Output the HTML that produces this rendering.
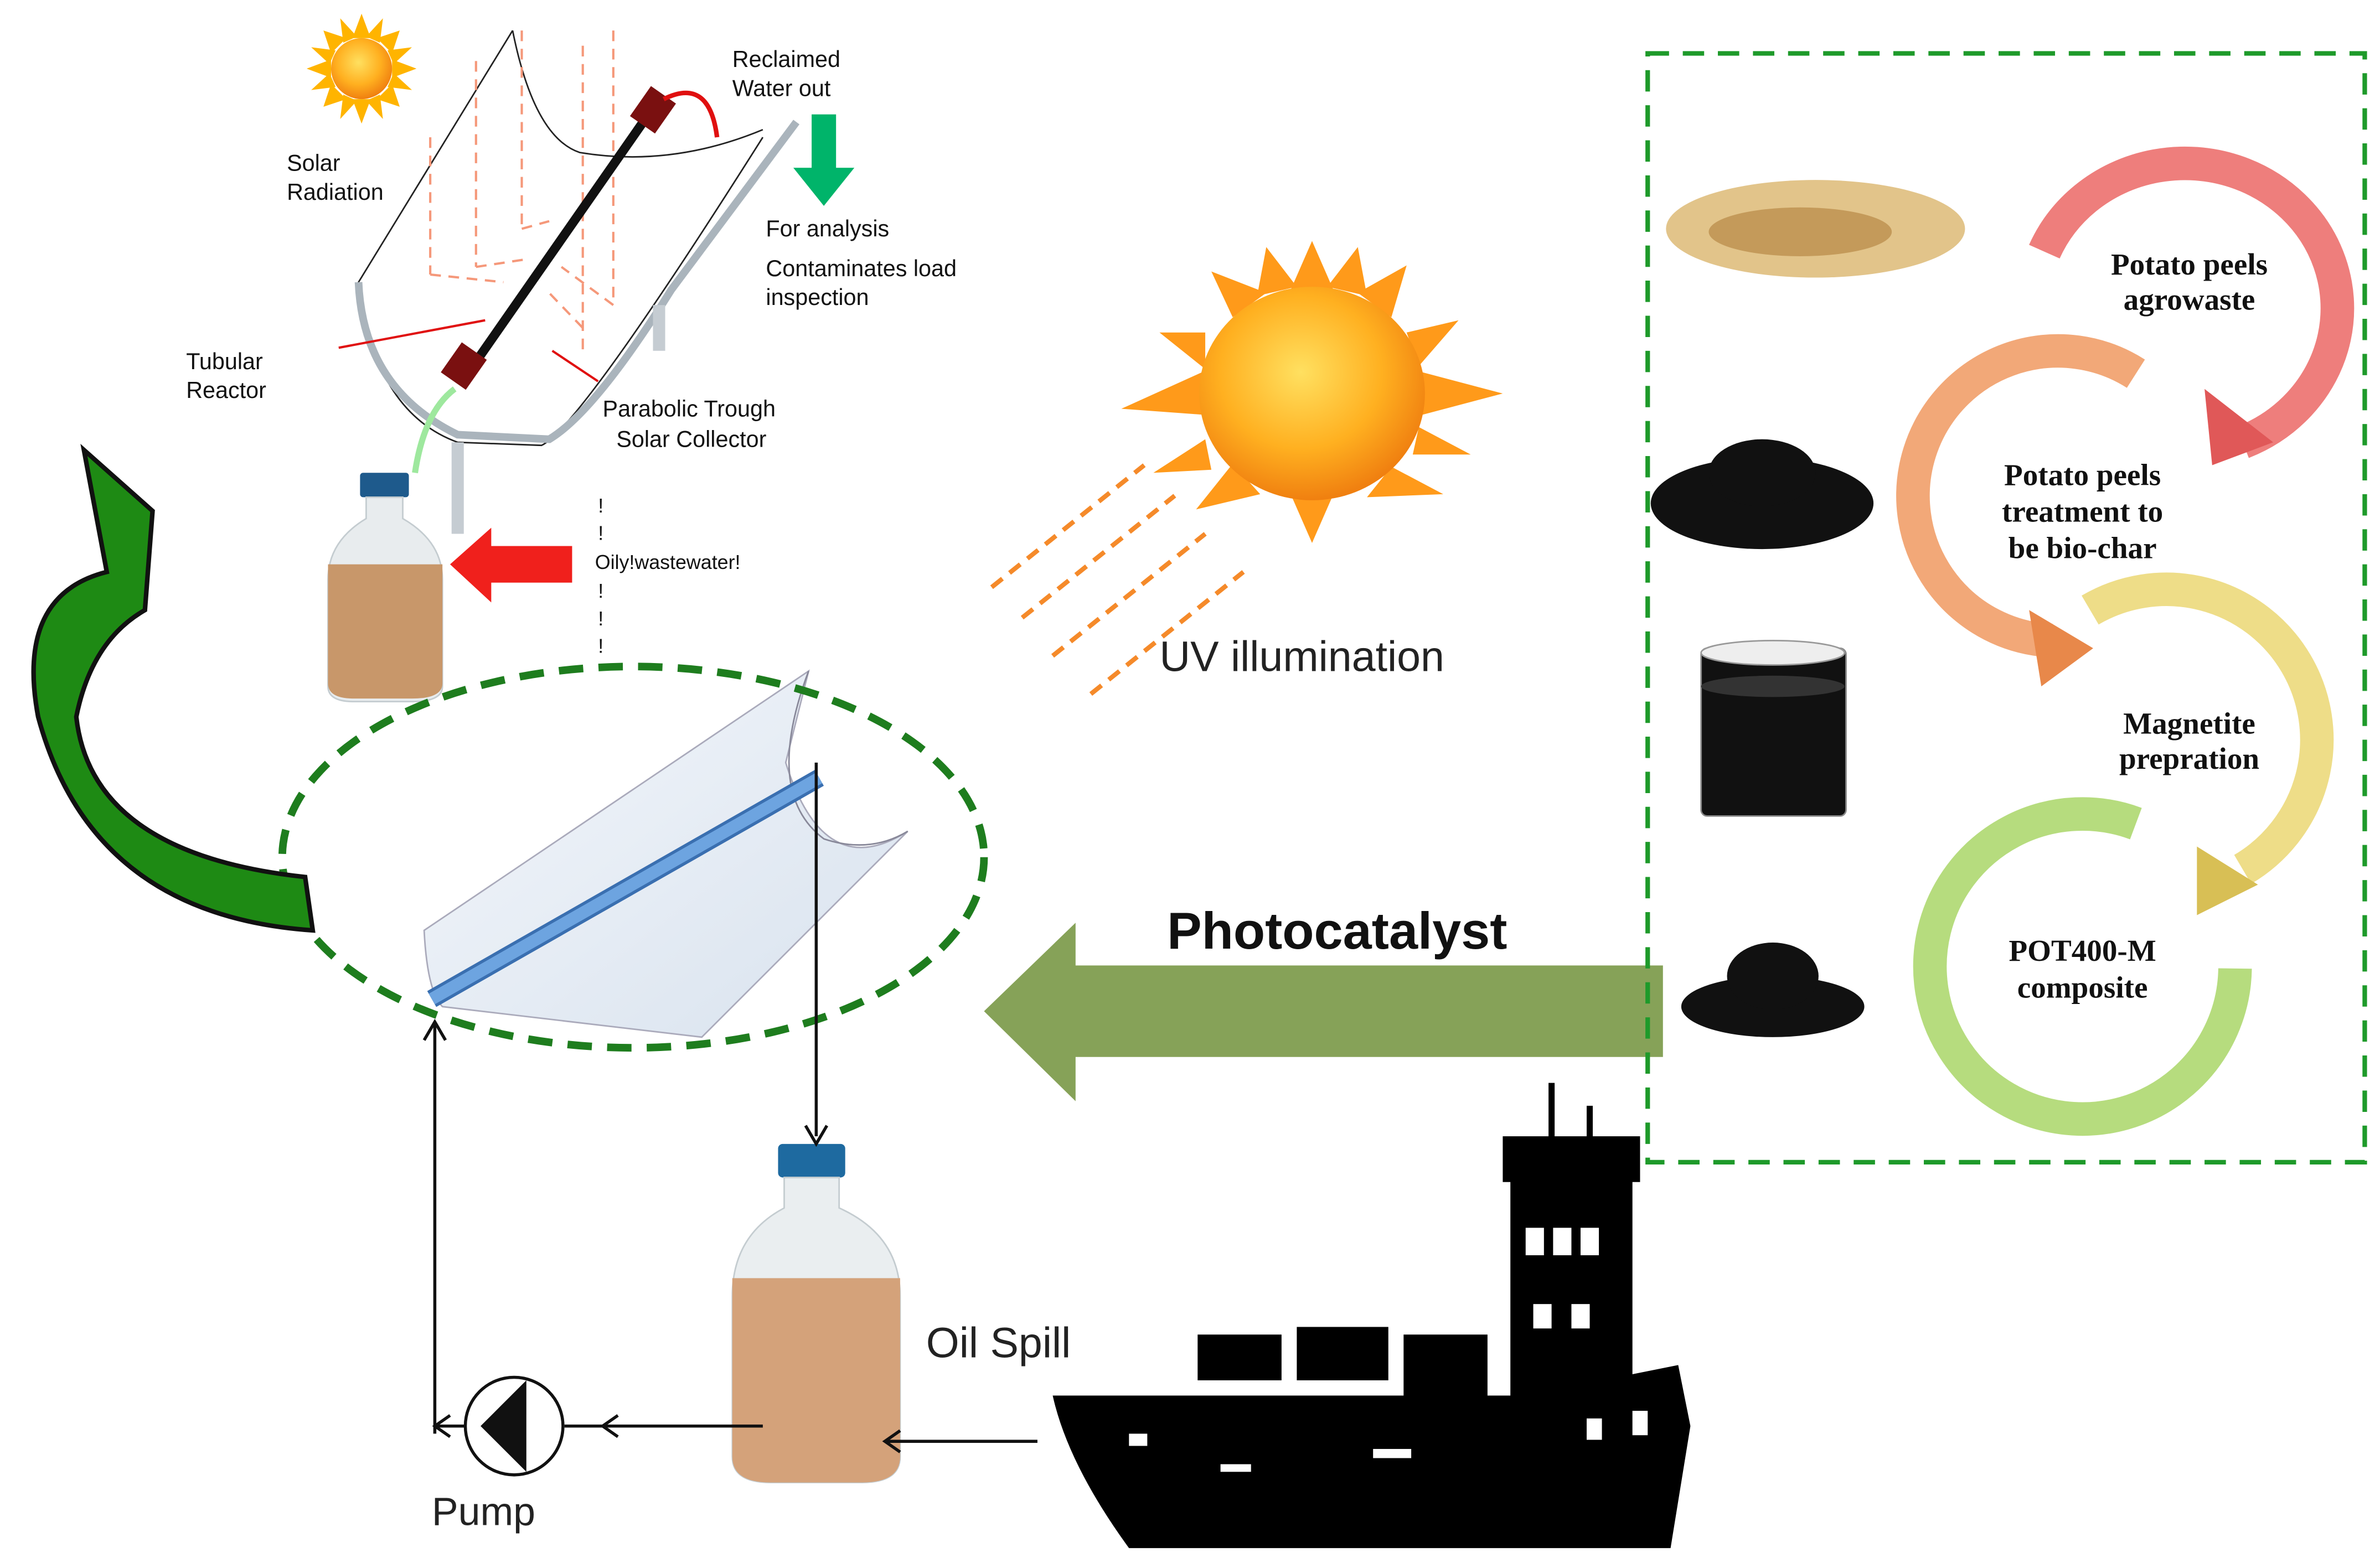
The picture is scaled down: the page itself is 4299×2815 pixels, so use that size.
<!DOCTYPE html>
<html><head><meta charset="utf-8"><style>
html,body{margin:0;padding:0;background:#fff;}
svg{display:block;}
text{font-family:"Liberation Sans",sans-serif;}
.s{font-family:"Liberation Serif",serif;font-weight:bold;fill:#111;}
</style></head><body>
<svg width="4299" height="2815" viewBox="0 0 1560 1021.5" preserveAspectRatio="none" xmlns="http://www.w3.org/2000/svg">
<defs>
<radialGradient id="sg" cx="45%" cy="40%" r="60%"><stop offset="0" stop-color="#ffe060"/><stop offset="0.6" stop-color="#ffb020"/><stop offset="1" stop-color="#f08010"/></radialGradient>
<linearGradient id="tr" x1="0" y1="0" x2="1" y2="1"><stop offset="0" stop-color="#f4f7fb"/><stop offset="1" stop-color="#d8e2ee"/></linearGradient>
</defs>
<g transform="translate(237,45)">
<g fill="#ffb400">
<polygon points="0,-36 6,-20 -6,-20"/><polygon points="0,36 6,20 -6,20"/><polygon points="-36,0 -20,6 -20,-6"/><polygon points="36,0 20,6 20,-6"/>
<polygon points="25,-25 10,-20 20,-10"/><polygon points="-25,25 -10,20 -20,10"/><polygon points="25,25 10,20 20,10"/><polygon points="-25,-25 -10,-20 -20,-10"/>
<polygon points="14,-33 3,-21 12,-17"/><polygon points="-14,33 -3,21 -12,17"/><polygon points="33,14 21,3 17,12"/><polygon points="-33,-14 -21,-3 -17,-12"/>
<polygon points="-14,-33 -3,-21 -12,-17"/><polygon points="14,33 3,21 12,17"/><polygon points="33,-14 21,-3 17,-12"/><polygon points="-33,14 -21,3 -17,12"/>
</g>
<circle r="20" fill="url(#sg)"/>
</g>
<path d="M336,20 L235,185 Q245,270 300,290 L355,292 Q380,280 500,90" fill="none" stroke="#222" stroke-width="1"/>
<path d="M235,185 Q238,255 300,285 L360,288 Q390,270 440,190 L522,80" fill="none" stroke="#aab4bc" stroke-width="5"/>
<path d="M336,20 Q350,90 380,100 Q440,110 500,85" fill="none" stroke="#222" stroke-width="1"/>
<rect x="296" y="290" width="8" height="60" fill="#c5ccd2"/>
<rect x="428" y="200" width="8" height="30" fill="#c5ccd2"/>
<g stroke="#f5987a" stroke-width="1.5" stroke-dasharray="7,5" fill="none">
<line x1="282" y1="90" x2="282" y2="180"/><line x1="312" y1="40" x2="312" y2="175"/><line x1="342" y1="20" x2="342" y2="150"/><line x1="382" y1="30" x2="382" y2="230"/><line x1="402" y1="20" x2="402" y2="200"/>
<line x1="282" y1="180" x2="330" y2="185"/><line x1="312" y1="175" x2="345" y2="170"/><line x1="342" y1="150" x2="360" y2="145"/><line x1="382" y1="215" x2="358" y2="190"/><line x1="402" y1="200" x2="368" y2="175"/>
</g>
<line x1="310" y1="240" x2="432" y2="65" stroke="#111" stroke-width="6"/>
<rect x="294" y="228" width="20" height="24" fill="#7a1010" transform="rotate(35 304 240)"/>
<rect x="418" y="60" width="20" height="24" fill="#7a1010" transform="rotate(35 428 72)"/>
<path d="M435,65 Q465,50 470,90" fill="none" stroke="#e01010" stroke-width="3"/>
<path d="M298,255 Q278,270 272,310" fill="none" stroke="#9ee89e" stroke-width="4"/>
<line x1="222" y1="228" x2="318" y2="210" stroke="#e01010" stroke-width="1.5"/>
<line x1="392" y1="250" x2="362" y2="230" stroke="#e01010" stroke-width="1.5"/>
<rect x="532" y="75" width="16" height="38" fill="#00b46a"/><polygon points="520,110 560,110 540,135" fill="#00b46a"/>
<g font-size="15" fill="#111">
<text x="480" y="44">Reclaimed</text><text x="480" y="63">Water out</text>
<text x="188" y="112">Solar</text><text x="188" y="131">Radiation</text>
<text x="502" y="155">For analysis</text><text x="502" y="181">Contaminates load</text><text x="502" y="200">inspection</text>
<text x="122" y="242">Tubular</text><text x="122" y="261">Reactor</text>
<text x="395" y="273">Parabolic Trough</text><text x="404" y="293">Solar Collector</text>
<text x="390" y="373" font-size="13">Oily!wastewater!</text>
</g>
<g font-size="13" fill="#111"><text x="392" y="336">!</text><text x="392" y="354">!</text><text x="392" y="392">!</text><text x="392" y="410">!</text><text x="392" y="428">!</text></g>
<rect x="236" y="310" width="32" height="16" rx="2" fill="#1e5a8c"/>
<path d="M240,326 L264,326 L264,340 Q290,355 290,380 L290,450 Q290,460 270,460 L232,460 Q215,460 215,450 L215,380 Q215,355 240,340 Z" fill="#e8ecee" stroke="#c4ccd0"/>
<path d="M215,370 L290,370 L290,448 Q290,458 270,458 L232,458 Q215,458 215,448 Z" fill="#c8976a"/>
<rect x="318" y="358" width="57" height="24" fill="#f0201c"/><polygon points="295,370 322,346 322,395" fill="#f0201c"/>
<g transform="translate(860,258)">
<g fill="#ff9a1a">
<polygon points="0,-100 14,-68 -14,-68"/><polygon points="0,98 14,66 -14,66"/><polygon points="-125,10 -70,14 -72,-14"/><polygon points="125,0 72,14 72,-14"/>
<polygon points="62,-84 30,-66 52,-50"/><polygon points="-66,-80 -52,-50 -30,-66"/><polygon points="86,66 52,48 36,68"/><polygon points="-76,76 -52,46 -34,66"/>
<polygon points="96,-48 62,-40 70,-18"/><polygon points="-100,-40 -70,-40 -70,-16"/><polygon points="104,40 70,22 66,40"/><polygon points="-104,52 -70,30 -66,50"/>
<polygon points="30,-96 10,-70 36,-64"/><polygon points="-30,-96 -36,-64 -10,-70"/>
</g>
<ellipse rx="74" ry="70" fill="url(#sg)"/>
</g>
<g stroke="#f58a2a" stroke-width="3" stroke-dasharray="9,6">
<line x1="650" y1="385" x2="750" y2="305"/><line x1="670" y1="405" x2="770" y2="325"/><line x1="690" y1="430" x2="790" y2="350"/><line x1="715" y1="455" x2="815" y2="375"/>
</g>
<text x="760" y="440" font-size="28" fill="#222">UV illumination</text>
<path d="M530,440 L278,610 Q280,650 290,660 L460,680 L595,545 Q540,580 515,500 Z" fill="url(#tr)" stroke="#aab" stroke-width="1"/>
<path d="M530,440 Q500,520 540,550 Q570,560 595,545" fill="none" stroke="#889" stroke-width="1"/>
<line x1="283" y1="655" x2="537" y2="510" stroke="#3a6fb0" stroke-width="12"/>
<line x1="283" y1="655" x2="537" y2="510" stroke="#6da4e0" stroke-width="8"/>
<ellipse cx="415" cy="562" rx="230" ry="125" fill="none" stroke="#1e7d1e" stroke-width="5" stroke-dasharray="16,10"/>
<path d="M205,610 Q60,600 25,470 Q10,390 70,375 L55,295 L100,335 L95,400 Q60,420 50,470 Q60,560 200,575 Z" fill="#1e8a14" stroke="#111" stroke-width="3"/>
<rect x="510" y="750" width="44" height="22" rx="3" fill="#1e6aa0"/>
<path d="M514,772 L550,772 L550,792 Q590,810 590,850 L590,955 Q590,972 565,972 L505,972 Q480,972 480,955 L480,850 Q480,810 514,792 Z" fill="#eaeef0" stroke="#c4ccd0"/>
<path d="M480,838 L590,838 L590,955 Q590,972 565,972 L505,972 Q480,972 480,955 Z" fill="#d4a27a"/>
<g stroke="#111" stroke-width="2" fill="none">
<polyline points="535,500 535,745"/><polyline points="528,738 535,750 542,738"/>
<polyline points="285,940 285,670"/><polyline points="278,682 285,670 292,682"/>
<line x1="285" y1="935" x2="305" y2="935"/><polyline points="295,928 285,935 295,942"/>
<line x1="370" y1="935" x2="500" y2="935"/><polyline points="405,928 395,935 405,942"/>
<line x1="580" y1="945" x2="680" y2="945"/><polyline points="590,938 580,945 590,952"/>
</g>
<circle cx="337" cy="935" r="32" fill="#fff" stroke="#111" stroke-width="2"/>
<polygon points="315,935 345,905 345,965" fill="#111"/>
<text x="283" y="1000" font-size="26" fill="#222">Pump</text>
<text x="607" y="890" font-size="28" fill="#222">Oil Spill</text>
<rect x="703" y="633" width="387" height="60" fill="#86a258"/>
<polygon points="645,663 705,605 705,722" fill="#86a258"/>
<text x="765" y="622" font-size="34" font-weight="bold" fill="#111">Photocatalyst</text>
<g fill="#000">
<path d="M690,915 L1000,915 L1100,895 L1108,935 L1095,1015 L740,1015 Q700,960 690,915 Z"/>
<rect x="990" y="770" width="80" height="150"/>
<rect x="985" y="745" width="90" height="30"/>
<rect x="1015" y="710" width="4" height="40"/><rect x="1040" y="725" width="4" height="25"/>
<rect x="785" y="875" width="55" height="30"/><rect x="850" y="870" width="60" height="35"/><rect x="920" y="875" width="55" height="45"/>
</g>
<g fill="#fff">
<rect x="1000" y="805" width="12" height="18"/><rect x="1018" y="805" width="12" height="18"/><rect x="1036" y="805" width="12" height="18"/>
<rect x="1005" y="855" width="12" height="16"/><rect x="1030" y="855" width="12" height="16"/>
<rect x="740" y="940" width="12" height="8"/><rect x="800" y="960" width="20" height="5"/><rect x="900" y="950" width="25" height="6"/><rect x="1040" y="930" width="10" height="14"/><rect x="1070" y="925" width="10" height="16"/>
</g>
<rect x="1080" y="35" width="470" height="727" fill="none" stroke="#1e9a2a" stroke-width="3" stroke-dasharray="14,9"/>
<ellipse cx="1190" cy="150" rx="98" ry="32" fill="#e2c48a"/>
<ellipse cx="1180" cy="152" rx="60" ry="16" fill="#c49a5a"/>
<ellipse cx="1155" cy="330" rx="73" ry="30" fill="#111"/><ellipse cx="1155" cy="310" rx="35" ry="22" fill="#111"/>
<rect x="1115" y="425" width="95" height="110" rx="4" fill="#111" stroke="#888"/><ellipse cx="1162" cy="428" rx="47" ry="8" fill="#eee" stroke="#999"/><ellipse cx="1162" cy="450" rx="47" ry="7" fill="#333"/>
<ellipse cx="1162" cy="660" rx="60" ry="20" fill="#111"/><ellipse cx="1162" cy="640" rx="30" ry="22" fill="#111"/>
<path d="M1340,165 A100,95 0 1 1 1470,290" fill="none" stroke="#ee7e7c" stroke-width="22"/>
<polygon points="1445,255 1490,290 1450,305" fill="#e05858"/>
<path d="M1400,245 A95,95 0 1 0 1345,420" fill="none" stroke="#f2a878" stroke-width="22"/>
<polygon points="1330,400 1372,425 1338,450" fill="#e8884a"/>
<path d="M1370,400 A95,95 0 1 1 1470,570" fill="none" stroke="#eedd88" stroke-width="22"/>
<polygon points="1440,555 1480,580 1440,600" fill="#d8bf55"/>
<path d="M1400,540 A100,100 0 1 0 1465,635" fill="none" stroke="#b6dc7e" stroke-width="22"/>
<g font-size="20" text-anchor="middle" class="s">
<text x="1435" y="180" class="s">Potato peels</text><text x="1435" y="203" class="s">agrowaste</text>
<text x="1365" y="318" class="s">Potato peels</text><text x="1365" y="342" class="s">treatment to</text><text x="1365" y="366" class="s">be bio-char</text>
<text x="1435" y="481" class="s">Magnetite</text><text x="1435" y="504" class="s">prepration</text>
<text x="1365" y="630" class="s">POT400-M</text><text x="1365" y="654" class="s">composite</text>
</g>
</svg>
</body></html>
